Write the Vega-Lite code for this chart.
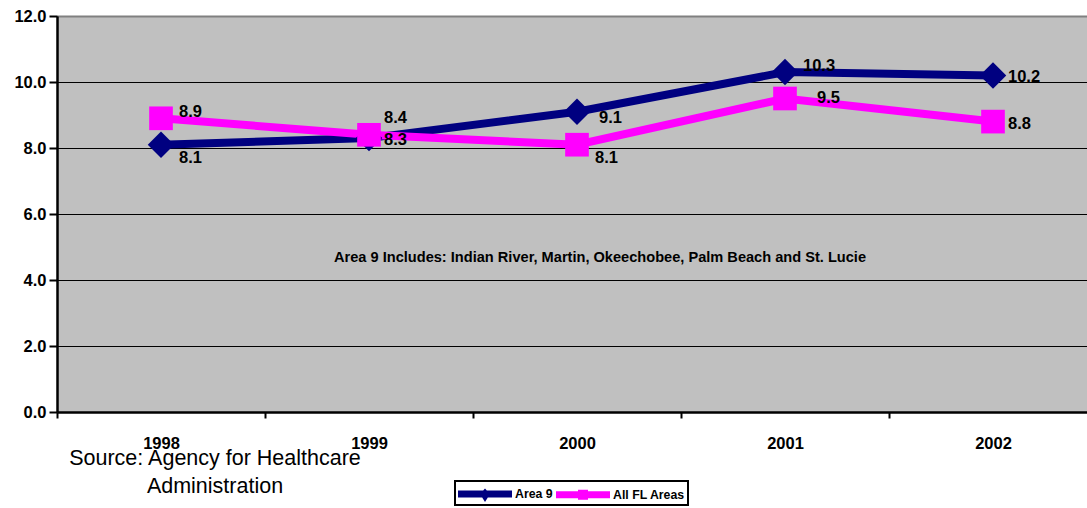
{
  "$schema": "https://vega.github.io/schema/vega-lite/v6.json",
  "autosize": {"type": "none"},
  "width": 1030,
  "height": 396,
  "padding": {"left": 57, "top": 16, "right": 0, "bottom": 96},
  "background": "white",
  "config": {
    "font": "Liberation Sans",
    "view": {"fill": "#C0C0C0", "stroke": null},
    "axisY": {
      "domainColor": "black", "domainWidth": 2.5,
      "tickColor": "black", "tickWidth": 2, "tickSize": 8,
      "labelFontSize": 16.5, "labelFontWeight": "bold", "labelColor": "black",
      "labelPadding": 3,
      "grid": true, "gridColor": "black", "gridWidth": 1, "gridOpacity": 1
    }
  },
  "resolve": {"axis": {"x": "independent"}},
  "datasets": {
    "rates": [
      {"Year": "1998", "Series": "Area 9", "Rate": 8.1},
      {"Year": "1999", "Series": "Area 9", "Rate": 8.3},
      {"Year": "2000", "Series": "Area 9", "Rate": 9.1},
      {"Year": "2001", "Series": "Area 9", "Rate": 10.3},
      {"Year": "2002", "Series": "Area 9", "Rate": 10.2},
      {"Year": "1998", "Series": "All FL Areas", "Rate": 8.9},
      {"Year": "1999", "Series": "All FL Areas", "Rate": 8.4},
      {"Year": "2000", "Series": "All FL Areas", "Rate": 8.1},
      {"Year": "2001", "Series": "All FL Areas", "Rate": 9.5},
      {"Year": "2002", "Series": "All FL Areas", "Rate": 8.8}
    ]
  },
  "layer": [
    {
      "data": {"name": "rates"},
      "encoding": {
        "x": {
          "field": "Year", "type": "nominal", "sort": null,
          "scale": {"range": [0, 1040], "paddingInner": 0, "paddingOuter": 0},
          "axis": {
            "title": null, "orient": "bottom", "labelAngle": 0, "tickBand": "extent",
            "domainColor": "black", "domainWidth": 2.5,
            "tickColor": "black", "tickWidth": 2, "tickSize": 6,
            "labelFontSize": 16.5, "labelFontWeight": "bold", "labelColor": "black",
            "labelPadding": 17, "grid": false
          }
        },
        "y": {
          "field": "Rate", "type": "quantitative",
          "scale": {"domain": [0, 12], "nice": false, "zero": true},
          "axis": {"title": null, "values": [0, 2, 4, 6, 8, 10, 12], "format": ".1f"}
        },
        "color": {
          "field": "Series", "type": "nominal",
          "scale": {"domain": ["Area 9", "All FL Areas"], "range": ["#000080", "#FF00FF"]},
          "legend": {
            "orient": "none", "legendX": 398, "legendY": 465,
            "direction": "horizontal", "title": null,
            "strokeColor": "black", "fillColor": "white", "padding": 3,
            "symbolSize": 400, "symbolOffset": 17, "labelOffset": 20,
            "columnPadding": 3, "symbolStrokeWidth": 0,
            "labelFontSize": 12.3, "labelFontWeight": "bold", "labelColor": "black",
            "labelFont": "Liberation Sans",
            "encode": {
              "legend": {"update": {"strokeWidth": {"value": 2}}},
              "symbols": {
                "update": {
                  "shape": {"signal": "datum.value === 'Area 9' ? 'M-2.7,-0.35L2.7,-0.35L2.7,0.35L-2.7,0.35Z M0,-0.55L0.5,0L0,0.8L-0.5,0Z' : 'M-2.7,-0.35L2.7,-0.35L2.7,0.35L-2.7,0.35Z M-0.5,-0.5L0.5,-0.5L0.5,0.5L-0.5,0.5Z'"},
                  "fill": {"signal": "datum.value === 'Area 9' ? '#000080' : '#FF00FF'"},
                  "fillOpacity": {"value": 1},
                  "opacity": {"value": 1},
                  "strokeWidth": {"value": 0}
                }
              }
            }
          }
        }
      },
      "layer": [
        {"mark": {"type": "line", "strokeWidth": 8}},
        {
          "transform": [{"filter": "datum.Series == 'Area 9'"}],
          "mark": {"type": "point", "filled": true, "opacity": 1, "shape": "diamond", "size": 700}
        },
        {
          "transform": [{"filter": "datum.Series == 'All FL Areas'"}],
          "mark": {"type": "point", "filled": true, "opacity": 1, "shape": "square", "size": 560}
        },
        {
          "transform": [{"filter": "(datum.Series == 'Area 9' && datum.Year == '1998') || (datum.Series == 'All FL Areas' && datum.Year == '2000')"}],
          "mark": {"type": "text", "align": "left", "baseline": "middle", "dx": 18, "dy": 13, "fontSize": 16.5, "fontWeight": "bold"},
          "encoding": {"text": {"field": "Rate", "type": "quantitative", "format": ".1f"}, "color": {"value": "black"}}
        },
        {
          "transform": [{"filter": "(datum.Series == 'Area 9' && (datum.Year == '1999' || datum.Year == '2002')) || (datum.Series == 'All FL Areas' && datum.Year == '2002')"}],
          "mark": {"type": "text", "align": "left", "baseline": "middle", "dx": 15, "dy": 2, "fontSize": 16.5, "fontWeight": "bold"},
          "encoding": {"text": {"field": "Rate", "type": "quantitative", "format": ".1f"}, "color": {"value": "black"}}
        },
        {
          "transform": [{"filter": "datum.Series == 'Area 9' && datum.Year == '2000'"}],
          "mark": {"type": "text", "align": "left", "baseline": "middle", "dx": 22, "dy": 6, "fontSize": 16.5, "fontWeight": "bold"},
          "encoding": {"text": {"field": "Rate", "type": "quantitative", "format": ".1f"}, "color": {"value": "black"}}
        },
        {
          "transform": [{"filter": "(datum.Series == 'Area 9' && datum.Year == '2001') || (datum.Series == 'All FL Areas' && datum.Year == '1998')"}],
          "mark": {"type": "text", "align": "left", "baseline": "middle", "dx": 18, "dy": -6, "fontSize": 16.5, "fontWeight": "bold"},
          "encoding": {"text": {"field": "Rate", "type": "quantitative", "format": ".1f"}, "color": {"value": "black"}}
        },
        {
          "transform": [{"filter": "datum.Series == 'All FL Areas' && datum.Year == '1999'"}],
          "mark": {"type": "text", "align": "left", "baseline": "middle", "dx": 15, "dy": -17, "fontSize": 16.5, "fontWeight": "bold"},
          "encoding": {"text": {"field": "Rate", "type": "quantitative", "format": ".1f"}, "color": {"value": "black"}}
        },
        {
          "transform": [{"filter": "datum.Series == 'All FL Areas' && datum.Year == '2001'"}],
          "mark": {"type": "text", "align": "left", "baseline": "middle", "dx": 32, "dy": -1, "fontSize": 16.5, "fontWeight": "bold"},
          "encoding": {"text": {"field": "Rate", "type": "quantitative", "format": ".1f"}, "color": {"value": "black"}}
        }
      ]
    },
    {
      "data": {"values": [{"note": "Area 9 Includes: Indian River, Martin, Okeechobee, Palm Beach and St. Lucie", "Year": "2000", "pos": 4.67}]},
      "mark": {"type": "text", "align": "center", "baseline": "middle", "dx": 23, "fontSize": 14.6, "fontWeight": "bold", "color": "black"},
      "encoding": {
        "x": {"field": "Year", "type": "nominal", "axis": {"title": null, "orient": "top", "labels": false, "ticks": false, "grid": false, "domainColor": "#808080", "domainWidth": 2}},
        "y": {"field": "pos", "type": "quantitative", "axis": {"title": null}},
        "text": {"field": "note"}
      }
    },
    {
      "data": {"values": [{"note": "Source: Agency for Healthcare\nAdministration", "Year": "1998", "pos": -1.43}]},
      "mark": {"type": "text", "align": "center", "baseline": "middle", "dx": 54, "fontSize": 21.5, "lineBreak": "\n", "lineHeight": 28, "color": "black"},
      "encoding": {
        "x": {"field": "Year", "type": "nominal", "axis": null},
        "y": {"field": "pos", "type": "quantitative", "axis": {"title": null}},
        "text": {"field": "note"}
      }
    }
  ]
}
